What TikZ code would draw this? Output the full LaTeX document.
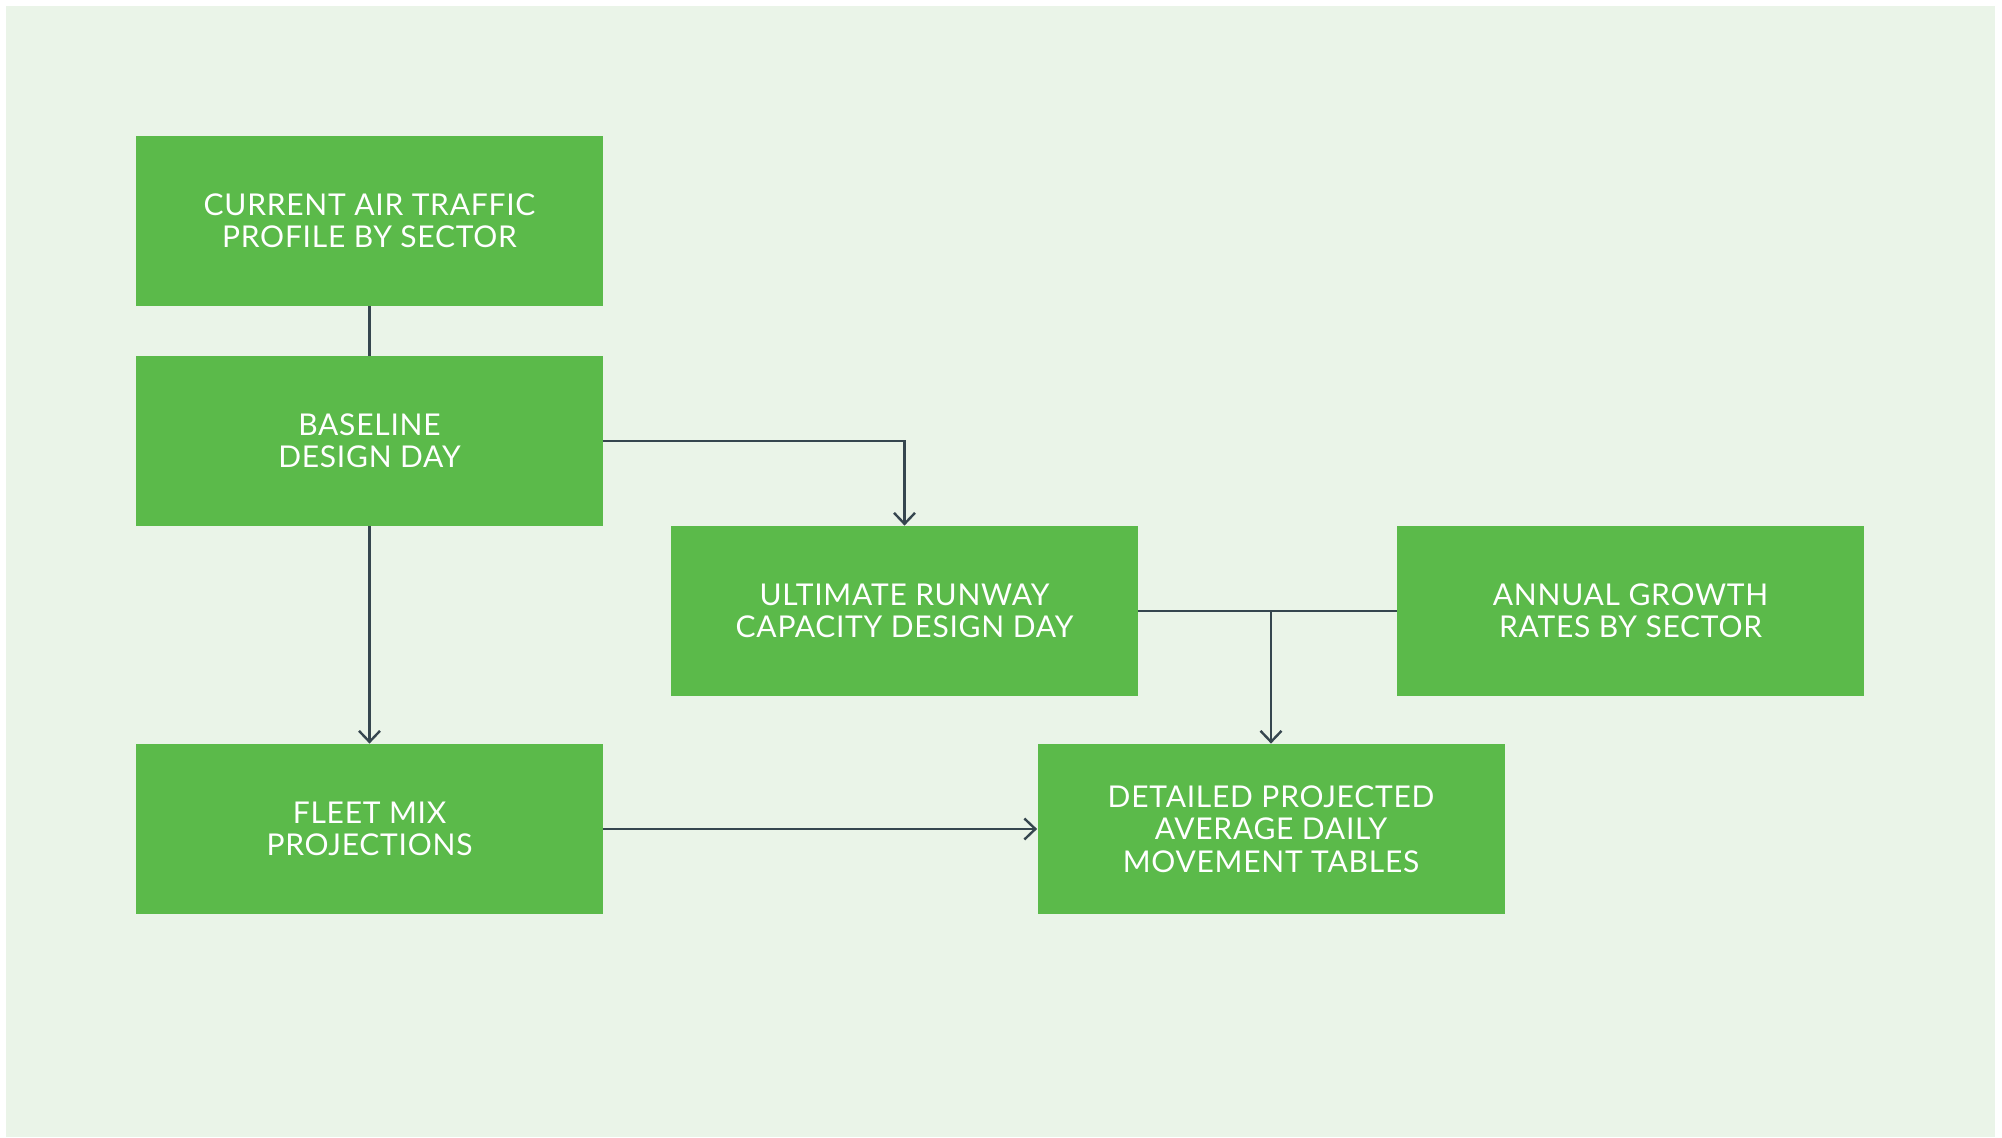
\documentclass[tikz,border=0pt]{standalone}
\usepackage{fontspec}
\setmainfont{Lato}[LetterSpace=2.5]
\usetikzlibrary{arrows.meta}
\definecolor{panelbg}{HTML}{EAF4E8}
\definecolor{boxgreen}{HTML}{5BBA4A}
\definecolor{linkcol}{HTML}{36464F}
\tikzset{
  stepbox/.style={fill=boxgreen, draw=none, minimum width=233.5pt, minimum height=85pt,
    inner sep=0pt, align=center, text=white,
    font=\fontsize{15}{16.2}\selectfont},
  link/.style={draw=linkcol, line width=1.2pt},
  flow/.style={link, -{Straight Barb[length=5.5pt,width=10.5pt,line width=1.2pt]}}
}
\begin{document}
\begin{tikzpicture}[x=0.5pt, y=-0.5pt]
  % page and panel
  \fill[white] (0,0) rectangle (2002,1138);
  \useasboundingbox (0,0) rectangle (2002,1138);
  \fill[panelbg] (6,6) rectangle (1995,1137);

  % process boxes
  \node[stepbox] (cur)   at (369.5,221) {CURRENT AIR TRAFFIC\\PROFILE BY SECTOR};
  \node[stepbox] (base)  at (369.5,441) {BASELINE\\DESIGN DAY};
  \node[stepbox] (ult)   at (904.5,611) {ULTIMATE RUNWAY\\CAPACITY DESIGN DAY};
  \node[stepbox] (ann)   at (1630.5,611) {ANNUAL GROWTH\\RATES BY SECTOR};
  \node[stepbox] (fleet) at (369.5,829) {FLEET MIX\\PROJECTIONS};
  \node[stepbox] (det)   at (1271,829) {DETAILED PROJECTED\\AVERAGE DAILY\\MOVEMENT TABLES};

  % connectors
  \draw[link] (cur.south) -- (base.north);
  \draw[flow] (base.east) -| (ult.north);
  \draw[flow] (base.south) -- (fleet.north);
  \draw[link] (ult.east) -- (ann.west);
  \coordinate (join) at (det.north |- ult.east);
  \draw[flow] (join) -- (det.north);
  \draw[flow] (fleet.east) -- (det.west);
\end{tikzpicture}
\end{document}
